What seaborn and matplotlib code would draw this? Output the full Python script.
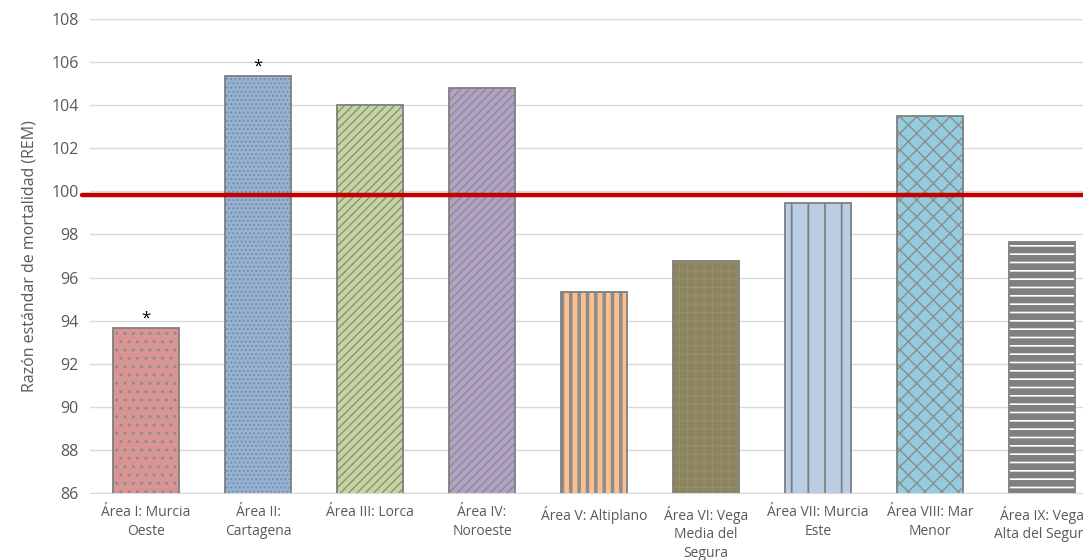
import numpy as np
import seaborn as sns
import matplotlib.pyplot as plt

areas = ['Área I: Murcia\nOeste', 'Área II:\nCartagena', 'Área III: Lorca', 'Área IV:\nNoroeste',
         'Área V: Altiplano', 'Área VI: Vega\nMedia del\nSegura', 'Área VII: Murcia\nEste',
         'Área VIII: Mar\nMenor', 'Área IX: Vega\nAlta del Segura']
rem = [93.65, 105.35, 104.0, 104.8, 95.32, 96.75, 99.46, 103.52, 97.66]
significant = [True, True, False, False, False, False, False, False, False]
reference = 99.85

colors = ['#D99594', '#95B3D7', '#C3D69B', '#B2A2C7', '#FAC090', '#8C8461', '#B9CDE5', '#93CDDD', '#7F7F7F']
hatches = ['..', '....', '////', '////', '||', '++', '|', 'xx', '--']
hatch_colors = ['#8C8C8C', '#7F8CA0', '#8C8C8C', '#8C8C8C', '#8C8C8C', '#978F68', '#7F7F7F', '#8C8C8C', '#FFFFFF']
hatch_widths = [1.0, 1.0, 1.0, 1.0, 2.5, 0.8, 1.3, 1.0, 1.2]

sns.set_style('white')
plt.rcParams['font.family'] = ['Open Sans', 'DejaVu Sans']
plt.rcParams['hatch.linewidth'] = 1.0

fig = plt.figure(figsize=(10.83, 5.6), dpi=100)
ax = fig.add_axes([90 / 1083, 1 - 493 / 560, 1008 / 1083, 474 / 560])

sns.barplot(x=areas, y=rem, hue=areas, palette=colors, legend=False, width=0.59,
            saturation=1, linewidth=0, ax=ax, zorder=2)
for p, h, hc, hw in zip(ax.patches, hatches, hatch_colors, hatch_widths):
    p.set_hatch(h)
    p.set_edgecolor(hc)
    p.set_linewidth(0)
    if hasattr(p, 'set_hatch_linewidth'):
        p.set_hatch_linewidth(hw)
# outlines
sns.barplot(x=areas, y=rem, fill=False, color='#7F7F7F', width=0.59, linewidth=1.3,
            ax=ax, zorder=3)

ax.axhline(reference, xmin=-0.008, xmax=1, color='#C00000', linewidth=3.2, zorder=4, clip_on=False)

for i, (v, s) in enumerate(zip(rem, significant)):
    if s:
        ax.text(i, v + 0.05, '*', ha='center', va='bottom', fontsize=12, color='black')

ax.set_ylim(86, 108)
ax.set_yticks(np.arange(86, 109, 2))
ax.set_xlim(-0.5, 8.5)
ax.yaxis.grid(True, color='#D9D9D9', linewidth=1.0)
ax.set_axisbelow(True)
for s in ['top', 'right', 'left']:
    ax.spines[s].set_visible(False)
ax.spines['bottom'].set_color('#D9D9D9')
ax.tick_params(axis='y', length=0, labelsize=11.5, labelcolor='#595959', pad=8)
ax.tick_params(axis='x', length=0, labelsize=10, labelcolor='#595959', pad=9)
for lbl in ax.get_xticklabels():
    lbl.set_linespacing(1.35)
ax.set_ylabel('Razón estándar de mortalidad (REM)', fontsize=11.5, color='#595959', labelpad=10)

fig.savefig('out.png', dpi=100)
